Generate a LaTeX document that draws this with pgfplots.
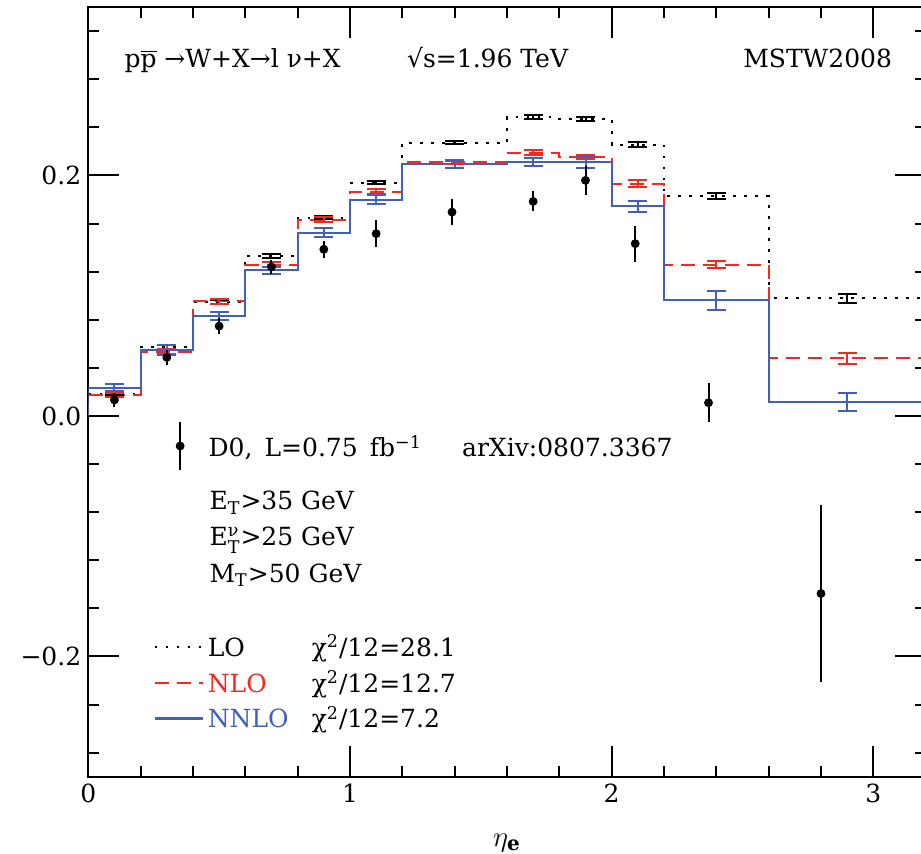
\documentclass[border=0pt]{standalone}
\usepackage{pgfplots}
\pgfplotsset{compat=1.18}
\usepackage{amsmath}
\usepackage{fontspec}
\setmainfont{DejaVu Serif}

\definecolor{nlored}{RGB}{245,40,30}
\definecolor{nnloblue}{RGB}{65,95,190}
\newcommand{\txt}{\fontsize{12.5}{15}\selectfont}

\begin{document}
\begin{tikzpicture}
\begin{axis}[
    scale only axis,
    width=418.7pt, height=384.8pt,
    xmin=0, xmax=3.2, ymin=-0.3, ymax=0.34,
    axis line style={line width=1pt},
    every tick/.style={black, line width=1pt},
    tick align=inside, tick pos=both,
    major tick length=15.5pt, minor tick length=5.5pt,
    xtick={0,1,2,3}, xticklabels={0,1,2,3},
    ytick={-0.2,0,0.2}, yticklabels={−0.2,0.0,0.2},
    minor xtick={0.2,0.4,0.6,0.8,1.2,1.4,1.6,1.8,2.2,2.4,2.6,2.8},
    minor ytick={-0.28,-0.24,-0.16,-0.12,-0.08,-0.04,0.04,0.08,0.12,0.16,0.24,0.28,0.32},
    ticklabel style={font=\txt},
    xlabel={$\eta_{\mathbf{e}}$},
    xlabel style={at={(axis description cs:0.5,0)}, anchor=center, yshift=-33pt, font=\Large},
    legend style={at={(axis cs:0.225,-0.175)}, anchor=north west, draw=none, fill=none,
        font=\txt, row sep=1.5pt, legend cell align=left},
    legend image code/.code={\draw[#1] (0pt,0pt) -- (20pt,0pt); \path (0pt,0pt) -- (24pt,0pt);},
]

% LO
\addplot[const plot, black, line width=1pt, dash pattern=on 1.3pt off 4.2pt] coordinates {
(0,0) (0,0.018) (0.2,0.0575) (0.4,0.095) (0.6,0.133) (0.8,0.165) (1.0,0.194)
(1.2,0.2273) (1.6,0.2484) (1.8,0.247) (2.0,0.2256) (2.2,0.1826) (2.6,0.0977) (3.2,0.0977)};
\addlegendentry{\makebox[52pt][l]{LO}χ\textsuperscript{2}/12=28.1}

% NLO
\addplot[const plot, nlored, line width=1pt, dash pattern=on 7pt off 4pt] coordinates {
(0,0) (0,0.0174) (0.2,0.0534) (0.4,0.0955) (0.6,0.1259) (0.8,0.1632) (1.0,0.1865)
(1.2,0.211) (1.6,0.2188) (1.8,0.2152) (2.0,0.1931) (2.2,0.1259) (2.6,0.0479) (3.2,0.0479)};
\addlegendentry{\makebox[52pt][l]{\textcolor{nlored}{NLO}}χ\textsuperscript{2}/12=12.7}

% NNLO
\addplot[const plot, nnloblue, line width=1.1pt] coordinates {
(0,0) (0,0.0235) (0.2,0.0548) (0.4,0.083) (0.6,0.1212) (0.8,0.1524) (1.0,0.1798)
(1.2,0.2094) (1.6,0.211) (1.8,0.211) (2.0,0.1743) (2.2,0.0963) (2.6,0.0113) (3.2,0.0113)};
\addlegendentry{\makebox[52pt][l]{\textcolor{nnloblue}{NNLO}}χ\textsuperscript{2}/12=7.2}

% theory uncertainties at bin centres
\addplot[forget plot, draw=none, mark=none,
    error bars/.cd, y dir=both, y explicit,
    error bar style={draw=black, solid, line width=1pt},
    error mark options={rotate=90, draw=black, solid, line width=1pt, mark size=4.8pt}]
coordinates {
(0.1,0.018) +- (0,0.001) (0.3,0.0575) +- (0,0.0015) (0.5,0.095) +- (0,0.0015)
(0.7,0.133) +- (0,0.0015) (0.9,0.165) +- (0,0.0015) (1.1,0.194) +- (0,0.0015)
(1.4,0.2273) +- (0,0.001) (1.7,0.2484) +- (0,0.0017) (1.9,0.247) +- (0,0.0017)
(2.1,0.2256) +- (0,0.0018) (2.4,0.1826) +- (0,0.0025) (2.9,0.0977) +- (0,0.0035)};

\addplot[forget plot, draw=none, mark=none,
    error bars/.cd, y dir=both, y explicit,
    error bar style={draw=nlored, solid, line width=1pt},
    error mark options={rotate=90, draw=nlored, solid, line width=1pt, mark size=4.8pt}]
coordinates {
(0.1,0.0174) +- (0,0.0015) (0.3,0.0534) +- (0,0.002) (0.5,0.0955) +- (0,0.002)
(0.7,0.1259) +- (0,0.002) (0.9,0.1632) +- (0,0.002) (1.1,0.1865) +- (0,0.002)
(1.4,0.211) +- (0,0.0015) (1.7,0.2188) +- (0,0.002) (1.9,0.2152) +- (0,0.0015)
(2.1,0.1931) +- (0,0.0028) (2.4,0.1259) +- (0,0.0028) (2.9,0.0479) +- (0,0.0043)};

\addplot[forget plot, draw=none, mark=none,
    error bars/.cd, y dir=both, y explicit,
    error bar style={draw=nnloblue, solid, line width=1pt},
    error mark options={rotate=90, draw=nnloblue, solid, line width=1pt, mark size=4.8pt}]
coordinates {
(0.1,0.0235) +- (0,0.003) (0.3,0.0548) +- (0,0.004) (0.5,0.083) +- (0,0.0033)
(0.7,0.1212) +- (0,0.003) (0.9,0.1524) +- (0,0.004) (1.1,0.1798) +- (0,0.0037)
(1.4,0.2094) +- (0,0.003) (1.7,0.211) +- (0,0.0035) (1.9,0.211) +- (0,0.0046)
(2.1,0.1743) +- (0,0.0048) (2.4,0.0963) +- (0,0.008) (2.9,0.0113) +- (0,0.0076)};

% D0 data
\addplot[forget plot, only marks, mark=*, mark size=2pt, black,
    error bars/.cd, y dir=both, y explicit, error mark=none,
    error bar style={black, line width=1pt}]
coordinates {
(0.1,0.0133) +- (0,0.006) (0.3,0.0487) +- (0,0.0062) (0.5,0.0747) +- (0,0.0065)
(0.7,0.1239) +- (0,0.0055) (0.9,0.1386) +- (0,0.007) (1.1,0.1516) +- (0,0.0113)
(1.39,0.1695) +- (0,0.0105) (1.7,0.1784) +- (0,0.0083) (1.9,0.1959) +- (0,0.012)
(2.09,0.1433) +- (0,0.015) (2.37,0.011) +- (0,0.016) (2.8,-0.1477) +- (0,0.0735)};

% key for the D0 points
\addplot[forget plot, only marks, mark=*, mark size=2pt, black,
    error bars/.cd, y dir=both, y explicit, error mark=none,
    error bar style={black, line width=1pt}]
coordinates {(0.351,-0.025) +- (0,0.02)};

\begin{scope}[every node/.style={inner sep=0pt, font=\txt}]
\node[anchor=base west] at (axis cs:0.137,0.2896) {p$\overline{\mbox{p}}$ →W+X→l ν+X};
\node[anchor=base west] at (axis cs:1.217,0.2896) {√s=1.96 TeV};
\node[anchor=base east] at (axis cs:3.073,0.2896) {MSTW2008};
\node[anchor=base west] at (axis cs:0.458,-0.034) {D0,\, L=0.75\, fb\textsuperscript{−1}};
\node[anchor=base west] at (axis cs:1.427,-0.034) {arXiv:0807.3367};
\node[anchor=base west] at (axis cs:0.462,-0.078) {E$_{\text{T}}$>35 GeV};
\node[anchor=base west] at (axis cs:0.462,-0.1079) {E$^{\text{ν}}_{\text{T}}$>25 GeV};
\node[anchor=base west] at (axis cs:0.462,-0.1383) {M$_{\text{T}}$>50 GeV};
\end{scope}
\end{axis}
\pgfresetboundingbox
\path[use as bounding box] ([shift={(-44.15pt,-38.65pt)}]current axis.south west)
    rectangle ([shift={(416.35pt,388.35pt)}]current axis.south west);
\end{tikzpicture}
\end{document}
